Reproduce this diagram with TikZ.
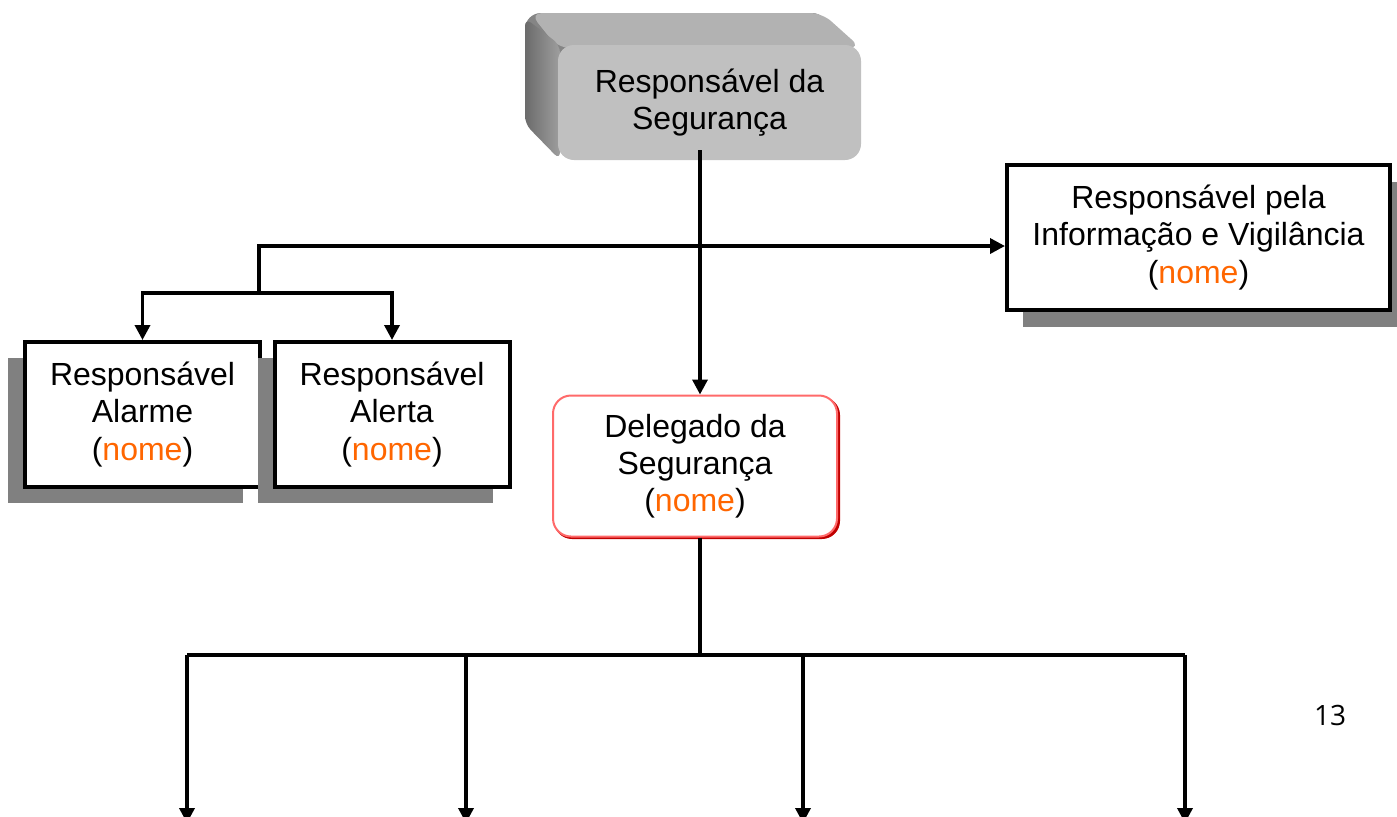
\documentclass[tikz,border=0pt]{standalone}
\usepackage{fontspec}
\setmainfont{Liberation Sans}
\newfontfamily\numfont{Open Sans}
\usetikzlibrary{arrows.meta,shadows}
\definecolor{orng}{HTML}{FF6600}
\definecolor{shgray}{HTML}{808080}
\definecolor{frontgray}{HTML}{C0C0C0}
\definecolor{lightred}{HTML}{FF6A6A}
\definecolor{darkred}{HTML}{C00000}
\newcommand{\nm}{(\textcolor{orng}{nome})}
\tikzset{
  lbl/.style={align=center,font=\fontsize{16}{18.6}\selectfont,inner sep=0pt},
  sqbox/.style={lbl,draw=black,line width=2pt,fill=white,minimum width=117.5pt,minimum height=72.5pt},
  shadowL/.style={general shadow={fill=shgray,shadow xshift=-8.5pt,shadow yshift=-8pt}},
  shadowR/.style={general shadow={fill=shgray,shadow xshift=8pt,shadow yshift=-8.5pt}},
  conn/.style={line width=1.75pt,draw=black},
  arr/.style={conn,-{Triangle[length=7.5pt,width=7.5pt]}},
}
\begin{document}
\begin{tikzpicture}[x=0.5pt,y=-0.5pt]
\useasboundingbox (0,0) rectangle (1397,816);
% 3D top box
\fill[black!48,rounded corners=8pt] (525,13) rectangle (828,128);
\fill[black!30,rounded corners=6pt] (530,13) -- (822,13) -- (861,48) -- (558,48) -- cycle;
\shade[left color=black!58,right color=black!38,rounded corners=4pt] (525,18) -- (560,45) -- (560,160) -- (525,124) -- cycle;
\node[lbl,fill=frontgray,rounded corners=8pt,minimum width=151.5pt,minimum height=57.5pt] (top) at (709.5,102.5) {Responsável da\\Segurança};
% Delegado
\fill[darkred,rounded corners=9pt] (554,397) rectangle (840,539);
\node[lbl,draw=lightred,line width=1pt,fill=white,rounded corners=9pt,minimum width=142pt,minimum height=70.5pt] (del) at (695,466) {Delegado da\\Segurança\\\nm};
% boxes with shadows
\node[sqbox,shadowL] (alarme) at (142.5,414.5) {Responsável\\Alarme\\\nm};
\node[sqbox,shadowL] (alerta) at (392,414.5) {Responsável\\Alerta\\\nm};
\node[sqbox,shadowR,minimum width=191.5pt] (info) at (1198.5,237.5) {Responsável pela\\Informação e Vigilância\\\nm};
% connectors
\coordinate (j1) at (259,246);
\coordinate (j2) at (259,293);
\coordinate (b0) at (700,655);
\draw[arr] ([yshift=5pt]b0 |- top.south) -- (b0 |- del.north);
\draw[arr] (j2) -- (j1) -- (j1 -| info.west);
\draw[arr] (j2) -| (alarme.north);
\draw[arr] (j2) -| (alerta.north);
\coordinate (bl) at (187,655);
\coordinate (br) at (1185,655);
\coordinate (e1) at (187,823);
\coordinate (e2) at (466,823);
\coordinate (e3) at (803,823);
\coordinate (e4) at (1185,823);
\draw[conn] (b0 |- del.south) -- (b0);
\draw[conn] (bl) -- (br);
\draw[arr] (bl) -- (e1);
\draw[arr] (e2 |- b0) -- (e2);
\draw[arr] (e3 |- b0) -- (e3);
\draw[arr] (br) -- (e4);
\node[font=\numfont\fontsize{14}{16}\selectfont,inner sep=0pt] (pg) at (1330,715) {13};
\end{tikzpicture}
\end{document}
